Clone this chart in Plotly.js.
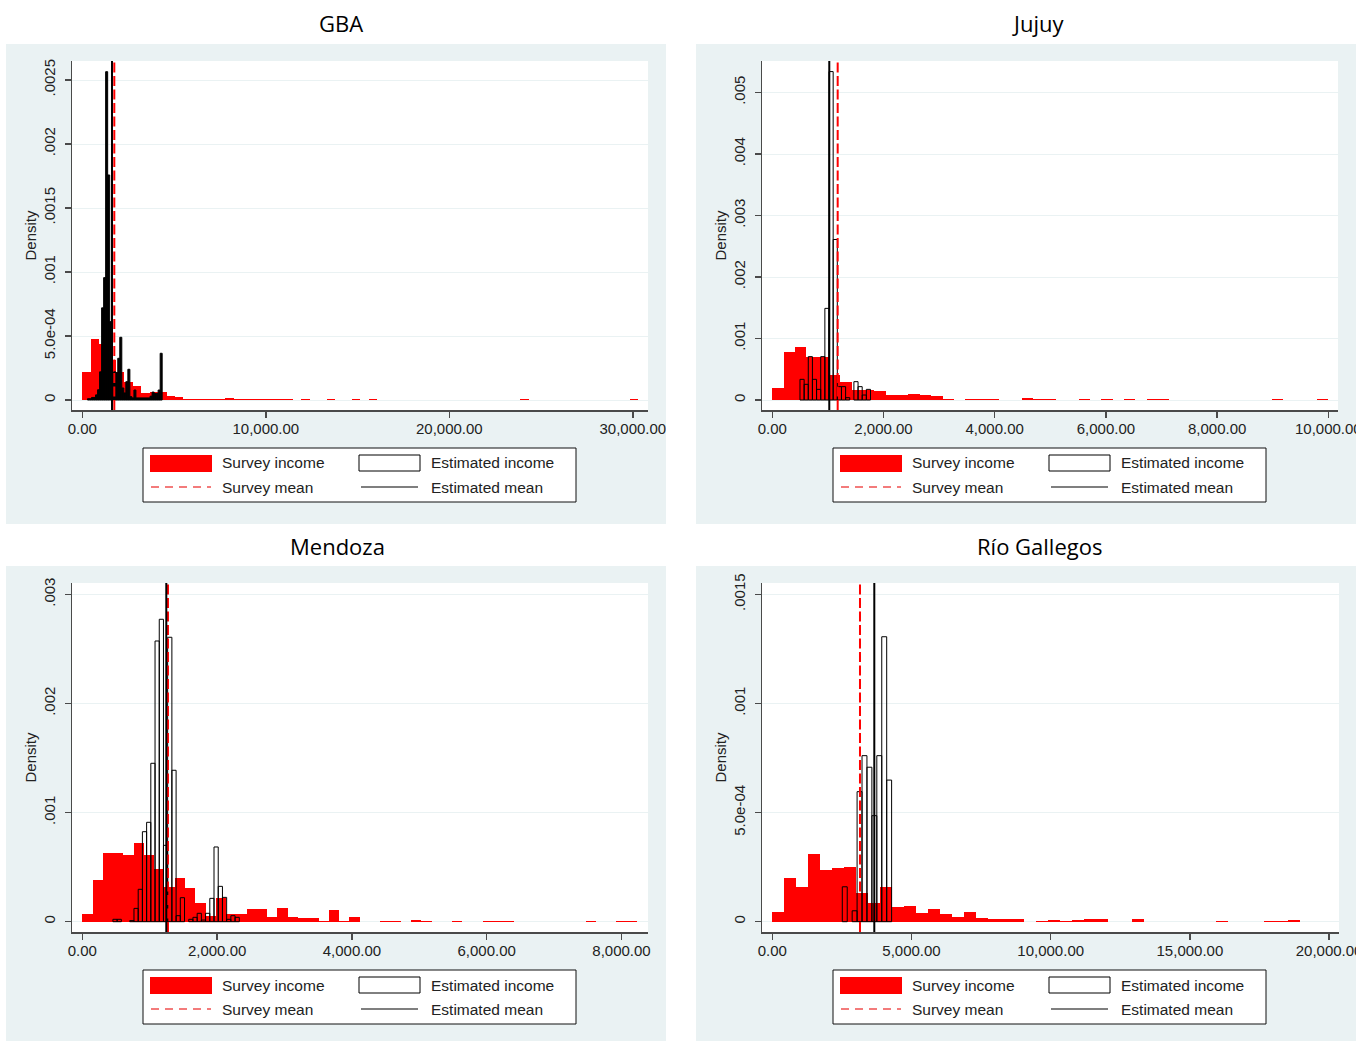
<!DOCTYPE html>
<html><head><meta charset="utf-8">
<script src="https://cdn.plot.ly/plotly-3.0.1.min.js"></script>
<style>html,body{margin:0;padding:0;background:#fff;}#chart{width:1371px;height:1041px;}</style>
</head><body><div id="chart"></div>
<script>
// ================= DATA =================
const panelTitles = ['GBA', 'Jujuy', 'Mendoza', 'Río Gallegos'];
const legendLabels = ['Survey income', 'Estimated income', 'Survey mean', 'Estimated mean'];

// --- GBA ---
const gbaSurveyStart = 0, gbaSurveyWidth = 459;
const gbaSurveyDensity = [
  0.000219, 0.000474, 0.000437, 0.00031, 0.000219, 0.000143, 0.000109, 0.000057, 0.000065, 0.00006,
  0.000031, 0.000021, 0.000008, 0.000008, 0.000008, 0.000008, 0.000008, 0.000019, 0.000008, 0.000008,
  0.000008, 0.000008, 0.000008, 0.000008, 0.000008, 0, 0.000006, 0, 0, 0.000006,
  0, 0, 0.000006, 0, 0.000006, 0, 0, 0, 0, 0,
  0, 0, 0, 0, 0, 0, 0, 0, 0, 0,
  0, 0, 0.000006, 0, 0, 0, 0, 0, 0, 0,
  0, 0, 0, 0, 0, 0.000006];
const gbaEstStart = 283, gbaEstWidth = 110;
const gbaEstDensity = [
  0.00001, 0.00001, 0.00002, 0.00002, 0.00004, 0.00008, 0.00022, 0.00072, 0.000956, 0.002565,
  0.001758, 0.000612, 0.000213, 0.00022, 0.000213, 0.000326, 0.00049, 0.000094, 0.000055, 0.000143,
  0.00024, 0.000026, 0.000016, 0.000078, 0.000016, 0.000016, 0.000016, 0.000016, 0.000016, 0.000016,
  0.000016, 0.00003, 0.000062, 0.00005, 0.00005, 0.000078, 0.000365];
const gbaSurveyMean = 1744, gbaEstMean = 1619;
const gbaXTicks = [0, 10000, 20000, 30000];
const gbaXTickText = ['0.00', '10,000.00', '20,000.00', '30,000.00'];
const gbaYTicks = [0, 0.0005, 0.001, 0.0015, 0.002, 0.0025];
const gbaYTickText = ['0', '5.0e-04', '.001', '.0015', '.002', '.0025'];

// --- Jujuy ---
const jujuySurveyStart = 0, jujuySurveyWidth = 204.08;
const jujuySurveyDensity = [
  0.00019, 0.000785, 0.000867, 0.000705, 0.000694, 0.000407, 0.000287, 0.000163, 0.000163, 0.000146,
  0.000081, 0.000081, 0.000098, 0.000081, 0.000065, 0.000016, 0, 0.000016, 0.000016, 0.000016,
  0, 0, 0.00004, 0.000016, 0.000016, 0, 0, 0.000016, 0, 0.000016,
  0, 0.000016, 0, 0.000016, 0.000016, 0, 0, 0, 0, 0,
  0, 0, 0, 0, 0.000016, 0, 0, 0, 0.000016];
const jujuyEstStart = 498, jujuyEstWidth = 74.6;
const jujuyEstDensity = [
  0.000336, 0.000255, 0.000705, 0.000336, 0.000173, 0.000705, 0.00149, 0.00534, 0.00261, 0.000217,
  0.000217, 0.000038, 0, 0.000298, 0.000217, 0.000081, 0.000173];
const jujuySurveyMean = 1176, jujuyEstMean = 1025;
const jujuyXTicks = [0, 2000, 4000, 6000, 8000, 10000];
const jujuyXTickText = ['0.00', '2,000.00', '4,000.00', '6,000.00', '8,000.00', '10,000.00'];
const jujuyYTicks = [0, 0.001, 0.002, 0.003, 0.004, 0.005];
const jujuyYTickText = ['0', '.001', '.002', '.003', '.004', '.005'];

// --- Mendoza ---
const mendozaSurveyStart = 0, mendozaSurveyWidth = 152.4;
const mendozaSurveyDensity = [
  0.0000706, 0.000382, 0.000633, 0.000633, 0.000611, 0.000724, 0.000608, 0.000483, 0.000315, 0.000398,
  0.000306, 0.000168, 0.000052, 0.000214, 0.000068, 0.000068, 0.000113, 0.000113, 0.000043, 0.000122,
  0.000046, 0.000031, 0.000031, 0.000006, 0.000107, 0.000006, 0.00004, 0, 0, 0.000006,
  0.000006, 0, 0.00002, 0.000006, 0, 0, 0.000006, 0, 0, 0.000006,
  0.000006, 0.000006, 0, 0, 0, 0, 0, 0, 0, 0.000006,
  0, 0, 0.000006, 0.000006];
const mendozaEstStart = 454, mendozaEstWidth = 62.5;
const mendozaEstDensity = [
  0.000022, 0.000022, 0, 0, 0.00001, 0.000122, 0.000297, 0.000825, 0.000911, 0.001452,
  0.002573, 0.002772, 0.0007, 0.002607, 0.001388, 0.000055, 0.00022, 0, 0.000022, 0.00004,
  0.000077, 0.000015, 0.000077, 0.000214, 0.000685, 0.000324, 0.000223, 0.000022, 0.000055, 0.00004];
const mendozaSurveyMean = 1271, mendozaEstMean = 1246;
const mendozaXTicks = [0, 2000, 4000, 6000, 8000];
const mendozaXTickText = ['0.00', '2,000.00', '4,000.00', '6,000.00', '8,000.00'];
const mendozaYTicks = [0, 0.001, 0.002, 0.003];
const mendozaYTickText = ['0', '.001', '.002', '.003'];

// --- Río Gallegos ---
const rgSurveyStart = 0, rgSurveyWidth = 431;
const rgSurveyDensity = [
  0.000043, 0.000202, 0.000158, 0.000312, 0.000237, 0.000245, 0.000249, 0.00013, 0.000087, 0.000158,
  0.000066, 0.000072, 0.000038, 0.000057, 0.000035, 0.00002, 0.000043, 0.000016, 0.000011, 0.000011,
  0.000011, 0, 0.000005, 0.00001, 0.000005, 0.00001, 0.000013, 0.000013, 0, 0,
  0.000012, 0, 0, 0, 0, 0, 0, 0.000005, 0, 0,
  0, 0.000005, 0.000005, 0.00001];
const rgEstStart = 2514, rgEstWidth = 177.2;
const rgEstDensity = [0.00016, 0, 0.00005, 0.000596, 0.000761, 0.000708, 0.000486, 0.000761, 0.001306, 0.000649];
const rgSurveyMean = 3150, rgEstMean = 3664;
const rgXTicks = [0, 5000, 10000, 15000, 20000];
const rgXTickText = ['0.00', '5,000.00', '10,000.00', '15,000.00', '20,000.00'];
const rgYTicks = [0, 0.0005, 0.001, 0.0015];
const rgYTickText = ['0', '5.0e-04', '.001', '.0015'];

// ================= LAYOUT / STYLE =================
const W = 1371, H = 1041;
const fx = p => p / W, fy = p => 1 - p / H;
const RED = '#FF0000', BG = '#EAF2F3', AXC = '#4a4a4a', TXT = '#222222';
const FONT = 'Liberation Sans, Arial, sans-serif';

const panels = [
  {sS: gbaSurveyStart, sW: gbaSurveyWidth, sD: gbaSurveyDensity, eS: gbaEstStart, eW: gbaEstWidth, eD: gbaEstDensity,
   sM: gbaSurveyMean, eM: gbaEstMean, xt: gbaXTicks, xtt: gbaXTickText, yt: gbaYTicks, ytt: gbaYTickText,
   xr: [-561, 30828], yr: [-0.0000781, 0.0026484], estFill: '#000000',
   box: [6, 44, 666, 524], plot: [72, 61, 648, 410], leg: [143, 448], ttl: [341, 23]},
  {sS: jujuySurveyStart, sW: jujuySurveyWidth, sD: jujuySurveyDensity, eS: jujuyEstStart, eW: jujuyEstWidth, eD: jujuyEstDensity,
   sM: jujuySurveyMean, eM: jujuyEstMean, xt: jujuyXTicks, xtt: jujuyXTickText, yt: jujuyYTicks, ytt: jujuyYTickText,
   xr: [-185, 10174], yr: [-0.0001626, 0.0055122], estFill: 'rgba(0,0,0,0)',
   box: [696, 44, 1356, 524], plot: [762, 61, 1338, 410], leg: [833, 448], ttl: [1038, 23]},
  {sS: mendozaSurveyStart, sW: mendozaSurveyWidth, sD: mendozaSurveyDensity, eS: mendozaEstStart, eW: mendozaEstWidth, eD: mendozaEstDensity,
   sM: mendozaSurveyMean, eM: mendozaEstMean, xt: mendozaXTicks, xtt: mendozaXTickText, yt: mendozaYTicks, ytt: mendozaYTickText,
   xr: [-153, 8393], yr: [-0.0000944, 0.0031045], estFill: 'rgba(0,0,0,0)',
   box: [6, 566, 666, 1041], plot: [72, 583, 648, 932], leg: [143, 970], ttl: [337, 546]},
  {sS: rgSurveyStart, sW: rgSurveyWidth, sD: rgSurveyDensity, eS: rgEstStart, eW: rgEstWidth, eD: rgEstDensity,
   sM: rgSurveyMean, eM: rgEstMean, xt: rgXTicks, xtt: rgXTickText, yt: rgYTicks, ytt: rgYTickText,
   xr: [-370, 20356], yr: [-0.0000472, 0.0015523], estFill: 'rgba(0,0,0,0)',
   box: [696, 566, 1356, 1041], plot: [762, 583, 1339, 932], leg: [833, 970], ttl: [1039, 546]}
];

const traces = [];
const layout = {
  width: W, height: H, margin: {l: 0, r: 0, t: 0, b: 0},
  paper_bgcolor: '#FFFFFF', plot_bgcolor: '#FFFFFF',
  showlegend: false, barmode: 'overlay', bargap: 0,
  shapes: [], annotations: []
};

panels.forEach((p, i) => {
  const n = i === 0 ? '' : String(i + 1);
  const xa = 'x' + n, ya = 'y' + n;
  const sx = p.sD.map((_, k) => p.sS + (k + 0.5) * p.sW);
  const ex = p.eD.map((_, k) => p.eS + (k + 0.5) * p.eW);
  traces.push({type: 'bar', x: sx, y: p.sD.map(v => v > 0 ? v : null), width: p.sW, xaxis: xa, yaxis: ya,
    name: legendLabels[0], marker: {color: RED, line: {width: 0}}, hoverinfo: 'skip'});
  traces.push({type: 'bar', x: ex, y: p.eD.map(v => v > 0 ? v : null), width: p.eW, xaxis: xa, yaxis: ya,
    name: legendLabels[1], marker: {color: p.estFill, line: {width: 1, color: '#000000'}}, hoverinfo: 'skip'});
  traces.push({type: 'scatter', mode: 'lines', x: [p.sM, p.sM], y: p.yr, xaxis: xa, yaxis: ya,
    name: legendLabels[2], line: {color: RED, width: 2, dash: '10px,3.5px'}, hoverinfo: 'skip', cliponaxis: true});
  traces.push({type: 'scatter', mode: 'lines', x: [p.eM, p.eM], y: p.yr, xaxis: xa, yaxis: ya,
    name: legendLabels[3], line: {color: '#000000', width: 2}, hoverinfo: 'skip', cliponaxis: true});

  const common = {showline: true, linecolor: AXC, linewidth: 1.5, ticks: 'outside', ticklen: 6, tickwidth: 1.5,
    tickcolor: AXC, tickfont: {family: FONT, size: 15, color: TXT}, zeroline: false, fixedrange: true, tickmode: 'array'};
  layout['xaxis' + n] = Object.assign({}, common, {
    domain: [fx(p.plot[0]), fx(p.plot[2])], anchor: ya, range: p.xr, showgrid: false,
    tickvals: p.xt, ticktext: p.xtt, ticklabelstandoff: -2});
  layout['yaxis' + n] = Object.assign({}, common, {
    domain: [fy(p.plot[3]), fy(p.plot[1])], anchor: xa, range: p.yr, showgrid: true, gridcolor: BG, gridwidth: 1,
    tickvals: p.yt, ticktext: p.ytt, tickangle: -90, ticklabelstandoff: 4,
    title: {text: 'Density', font: {family: FONT, size: 15, color: TXT}, standoff: 0}});

  // panel background box
  layout.shapes.push({type: 'rect', xref: 'paper', yref: 'paper', layer: 'below',
    x0: fx(p.box[0]), x1: fx(p.box[2]), y0: fy(p.box[3]), y1: fy(p.box[1]),
    fillcolor: BG, line: {width: 0}});
  // white plot region
  layout.shapes.push({type: 'rect', xref: xa + ' domain', yref: ya + ' domain', layer: 'below',
    x0: 0, x1: 1, y0: 0, y1: 1, fillcolor: '#FFFFFF', line: {width: 0}});

  // title
  layout.annotations.push({text: panelTitles[i], xref: 'paper', yref: 'paper', x: fx(p.ttl[0]), y: fy(p.ttl[1]),
    xanchor: 'center', yanchor: 'middle', showarrow: false,
    font: {family: 'Open Sans, Noto Sans, sans-serif', size: 22, color: '#000000'}});

  // legend (drawn as box with keys)
  const L = p.leg[0], T = p.leg[1];
  layout.shapes.push({type: 'rect', xref: 'paper', yref: 'paper', layer: 'above',
    x0: fx(L), x1: fx(L + 433), y0: fy(T + 54), y1: fy(T), fillcolor: '#FFFFFF', line: {color: '#111111', width: 1}});
  layout.shapes.push({type: 'rect', xref: 'paper', yref: 'paper', layer: 'above',
    x0: fx(L + 7), x1: fx(L + 69), y0: fy(T + 24), y1: fy(T + 7), fillcolor: RED, line: {width: 0}});
  layout.shapes.push({type: 'line', xref: 'paper', yref: 'paper', layer: 'above',
    x0: fx(L + 8), x1: fx(L + 68), y0: fy(T + 39), y1: fy(T + 39), line: {color: '#F05050', width: 1.4, dash: '8px,6px'}});
  layout.shapes.push({type: 'rect', xref: 'paper', yref: 'paper', layer: 'above',
    x0: fx(L + 216), x1: fx(L + 277), y0: fy(T + 23), y1: fy(T + 7), fillcolor: '#FFFFFF', line: {color: '#000000', width: 1}});
  layout.shapes.push({type: 'line', xref: 'paper', yref: 'paper', layer: 'above',
    x0: fx(L + 218), x1: fx(L + 275), y0: fy(T + 39), y1: fy(T + 39), line: {color: '#555555', width: 1.4}});
  const legText = [[L + 77, T + 15, 0], [L + 286, T + 15, 1], [L + 77, T + 39, 2], [L + 286, T + 39, 3]];
  legText.forEach(([lx, ly, k]) => layout.annotations.push({text: legendLabels[k], xref: 'paper', yref: 'paper',
    x: fx(lx), y: fy(ly), xanchor: 'left', yanchor: 'middle', showarrow: false,
    font: {family: FONT, size: 15.5, color: TXT}}));
});

// clip overflowing tick labels at the panel box edges, as in the original
layout.shapes.push({type: 'rect', xref: 'paper', yref: 'paper', layer: 'above', x0: fx(666), x1: fx(696), y0: 0, y1: 1,
  fillcolor: '#FFFFFF', line: {width: 0}});
layout.shapes.push({type: 'rect', xref: 'paper', yref: 'paper', layer: 'above', x0: fx(1356), x1: 1, y0: 0, y1: 1,
  fillcolor: '#FFFFFF', line: {width: 0}});

Plotly.newPlot('chart', traces, layout, {staticPlot: true, displayModeBar: false});
</script></body></html>
